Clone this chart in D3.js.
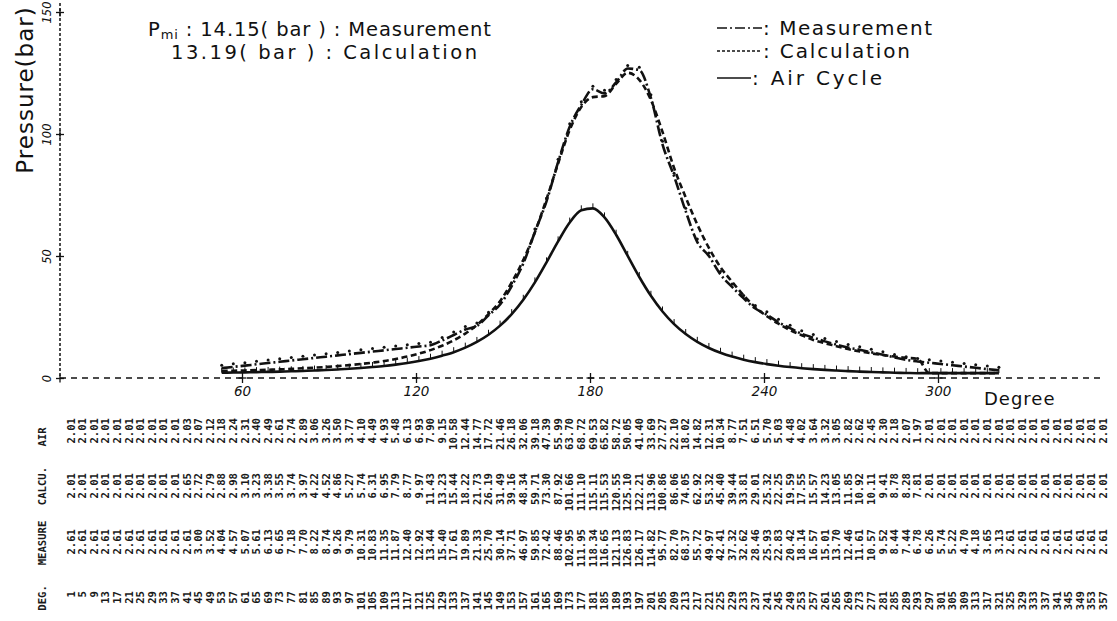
<!DOCTYPE html>
<html>
<head>
<meta charset="utf-8">
<script src="https://cdn.jsdelivr.net/npm/d3@7"></script>
<style>
  body { margin: 0; background: #fff; }
  svg { display: block; }
  .tbl { font-family: "DejaVu Sans Mono", monospace; font-size: 10.6px; font-weight: bold; fill: #1a1a1a; }
  .txt { font-family: "DejaVu Sans", sans-serif; fill: #111; }
</style>
</head>
<body>
<div id="chart"></div>
<script>
const DEG = [1, 5, 9, 13, 17, 21, 25, 29, 33, 37, 41, 45, 49, 53, 57, 61, 65, 69, 73, 77,
  81, 85, 89, 93, 97, 101, 105, 109, 113, 117, 121, 125, 129, 133, 137, 141, 145, 149, 153, 157,
  161, 165, 169, 173, 177, 181, 185, 189, 193, 197, 201, 205, 209, 213, 217, 221, 225, 229, 233, 237,
  241, 245, 249, 253, 257, 261, 265, 269, 273, 277, 281, 285, 289, 293, 297, 301, 305, 309, 313, 317,
  321, 325, 329, 333, 337, 341, 345, 349, 353, 357]

const MEASURE = [2.61, 2.61, 2.61, 2.61, 2.61, 2.61, 2.61, 2.61, 2.61, 2.61,
  2.61, 3.00, 3.52, 4.04, 4.57, 5.07, 5.61, 6.13, 6.65, 7.18,
  7.70, 8.22, 8.74, 9.26, 9.79, 10.31, 10.83, 11.35, 11.87, 12.40,
  12.92, 13.44, 15.40, 17.61, 19.89, 21.33, 25.70, 30.14, 37.71, 46.97,
  59.85, 72.42, 88.46, 102.95, 111.95, 118.34, 116.65, 121.13, 126.83, 126.17,
  114.82, 95.77, 82.70, 68.37, 55.72, 49.97, 42.41, 37.32, 32.62, 28.46,
  25.93, 22.83, 20.42, 18.14, 16.57, 15.01, 13.70, 12.46, 11.61, 10.57,
  9.52, 8.44, 7.44, 6.78, 6.26, 5.74, 5.22, 4.70, 4.18, 3.65,
  3.13, 2.61, 2.61, 2.61, 2.61, 2.61, 2.61, 2.61, 2.61, 2.61]

const CALCU = [2.01, 2.01, 2.01, 2.01, 2.01, 2.01, 2.01, 2.01, 2.01, 2.01,
  2.65, 2.72, 2.79, 2.88, 2.98, 3.10, 3.23, 3.38, 3.55, 3.74,
  3.97, 4.22, 4.52, 4.86, 5.27, 5.74, 6.31, 6.95, 7.79, 8.77,
  9.97, 11.43, 13.23, 15.44, 18.22, 21.73, 26.19, 31.49, 39.16, 48.34,
  59.71, 73.30, 87.92, 101.66, 111.10, 115.11, 115.53, 120.55, 125.10, 122.21,
  113.96, 100.86, 86.06, 74.05, 62.92, 53.32, 45.40, 39.44, 33.81, 29.01,
  25.32, 22.25, 19.59, 17.55, 15.57, 14.23, 13.05, 11.85, 10.92, 10.11,
  9.41, 8.78, 8.28, 7.81, 2.01, 2.01, 2.01, 2.01, 2.01, 2.01,
  2.01, 2.01, 2.01, 2.01, 2.01, 2.01, 2.01, 2.01, 2.01, 2.01]

const AIR = [2.01, 2.01, 2.01, 2.01, 2.01, 2.01, 2.01, 2.01, 2.01, 2.01,
  2.03, 2.07, 2.12, 2.18, 2.24, 2.31, 2.40, 2.49, 2.61, 2.74,
  2.89, 3.06, 3.26, 3.50, 3.77, 4.10, 4.49, 4.93, 5.48, 6.13,
  6.93, 7.90, 9.15, 10.58, 12.44, 14.77, 17.72, 21.46, 26.18, 32.06,
  39.18, 47.39, 55.99, 63.70, 68.72, 69.53, 65.82, 58.72, 50.05, 41.40,
  33.69, 27.27, 22.10, 18.02, 14.82, 12.31, 10.34, 8.77, 7.51, 6.51,
  5.70, 5.03, 4.48, 4.02, 3.64, 3.32, 3.05, 2.82, 2.62, 2.45,
  2.30, 2.18, 2.07, 1.97, 2.01, 2.01, 2.01, 2.01, 2.01, 2.01,
  2.01, 2.01, 2.01, 2.01, 2.01, 2.01, 2.01, 2.01, 2.01, 2.01]

const X_TICKS = [60, 120, 180, 240, 300]
const Y_TICKS = [0, 50, 100, 150]
const PLOT_DEG = [53, 321]
const PMI_LINES = [['14.15', 'Measurement'], ['13.19', 'Calculation']]
const LEGEND_NAMES = ['Measurement', 'Calculation', 'Air Cycle']

const INK = '#111'
const width = 1117
const height = 621

const svg = d3.select('#chart').append('svg').attr('width', width).attr('height', height)

const x = d3.scaleLinear().domain([0, 360]).range([68, 1112])
const y = d3.scaleLinear().domain([0, 150]).range([378, 12])

// dashed axis lines
svg.append('line')
  .attr('x1', 60).attr('x2', 60).attr('y1', 3).attr('y2', y(0))
  .attr('stroke', INK).attr('stroke-width', 1.5).attr('stroke-dasharray', '3,2')
svg.append('line')
  .attr('x1', 60).attr('x2', 1105).attr('y1', y(0)).attr('y2', y(0))
  .attr('stroke', INK).attr('stroke-width', 1.5).attr('stroke-dasharray', '6,5')

const yAxisG = svg.append('g')
  .attr('transform', 'translate(60,0)')
  .call(d3.axisLeft(y).tickValues(Y_TICKS).tickSize(0))
yAxisG.select('.domain').remove()
yAxisG.selectAll('.tick line').attr('x1', -4).attr('x2', 4).attr('stroke', INK).attr('stroke-width', 1.3)
yAxisG.selectAll('.tick').append('line').attr('y1', -4).attr('y2', 4).attr('stroke', INK).attr('stroke-width', 1.3)
yAxisG.selectAll('.tick text')
  .attr('x', null).attr('dy', null)
  .attr('transform', 'translate(-9,0) rotate(-90)')
  .attr('text-anchor', 'middle')
  .attr('font-family', 'DejaVu Sans, sans-serif')
  .attr('font-style', 'italic').attr('font-size', 11.5).attr('fill', INK)

const xAxisG = svg.append('g')
  .attr('transform', `translate(0,${y(0)})`)
  .call(d3.axisBottom(x).tickValues(X_TICKS).tickSize(0))
xAxisG.select('.domain').remove()
xAxisG.selectAll('.tick line').attr('y1', -5).attr('y2', 5).attr('stroke', INK).attr('stroke-width', 1.3)
xAxisG.selectAll('.tick').append('line').attr('x1', -4).attr('x2', 4).attr('stroke', INK).attr('stroke-width', 1.3)
xAxisG.selectAll('.tick text')
  .attr('y', 8).attr('dy', '0.71em')
  .attr('font-family', 'DejaVu Sans, sans-serif')
  .attr('font-style', 'italic').attr('font-size', 13.5).attr('fill', INK)

svg.append('text').attr('class', 'txt')
  .attr('x', 984).attr('y', 405)
  .attr('font-size', 18).attr('letter-spacing', 1)
  .text('Degree')

svg.append('text').attr('class', 'txt')
  .attr('transform', 'translate(33,90) rotate(-90)')
  .attr('text-anchor', 'middle')
  .attr('font-size', 23).attr('letter-spacing', 1)
  .text('Pressure(bar)')

// P_mi block
const pmi = svg.append('text').attr('class', 'txt')
  .attr('x', 148).attr('y', 36).attr('font-size', 19.5)
  .attr('textLength', 343).attr('lengthAdjust', 'spacing')
pmi.append('tspan').text('P')
pmi.append('tspan').attr('font-size', 13).attr('dy', 3).text('mi')
pmi.append('tspan').attr('dy', -3).text(` : ${PMI_LINES[0][0]}( bar ) : ${PMI_LINES[0][1]}`)
svg.append('text').attr('class', 'txt')
  .attr('x', 171).attr('y', 59).attr('font-size', 19.5)
  .attr('textLength', 306).attr('lengthAdjust', 'spacing')
  .text(`${PMI_LINES[1][0]}( bar ) : ${PMI_LINES[1][1]}`)

// curves
const rows = DEG.map((d, i) => ({ deg: d, measure: MEASURE[i], calcu: CALCU[i], air: AIR[i] }))
const plotted = rows.filter((r) => r.deg >= PLOT_DEG[0] && r.deg <= PLOT_DEG[1])

const SERIES = [
  { key: 'measure', dash: '11,3,2,3', legendDash: '10,3,2,3' },
  { key: 'calcu', dash: '6,3.5', legendDash: '3,2' },
  { key: 'air', dash: null, legendDash: null },
]

const curvesG = svg.append('g')
SERIES.forEach((s) => {
  const line = d3.line()
    .x((d) => x(d.deg))
    .y((d) => y(d[s.key]))
    .curve(d3.curveMonotoneX)
  curvesG.append('path')
    .datum(plotted)
    .attr('d', line)
    .attr('fill', 'none')
    .attr('stroke', INK)
    .attr('stroke-width', 2.6)
    .attr('stroke-dasharray', s.dash)
})

// small tick marks on the air cycle curve, dots on the measurement
curvesG.selectAll('line.air-mark')
  .data(plotted)
  .join('line')
  .attr('class', 'air-mark')
  .attr('x1', (d) => x(d.deg)).attr('x2', (d) => x(d.deg))
  .attr('y1', (d) => y(d.air) - 5).attr('y2', (d) => y(d.air))
  .attr('stroke', INK).attr('stroke-width', 1)
curvesG.selectAll('circle.m-mark')
  .data(plotted)
  .join('circle')
  .attr('class', 'm-mark')
  .attr('cx', (d) => x(d.deg)).attr('cy', (d) => y(d.measure) - 3)
  .attr('r', 1.5).attr('fill', INK)

// legend
const legendY = [35, 58, 85]
const legendEnd = [932, 910, 882]
const legendG = svg.append('g')
LEGEND_NAMES.forEach((name, i) => {
  const s = SERIES[i]
  const ly = legendY[i] - 7
  const tx = i === 2 ? 752 : 763
  legendG.append('line')
    .attr('x1', 717).attr('x2', tx - 1)
    .attr('y1', ly).attr('y2', ly)
    .attr('stroke', INK).attr('stroke-width', 1.6)
    .attr('stroke-dasharray', s.legendDash)
  legendG.append('text').attr('class', 'txt')
    .attr('x', tx).attr('y', legendY[i])
    .attr('font-size', 20)
    .attr('textLength', legendEnd[i] - tx).attr('lengthAdjust', 'spacing')
    .text(`: ${name}`)
})

// data table (rotated printer output)
const TABLE = [
  { name: 'AIR', values: AIR, top: 418, mid: 437, fmt: (v) => v.toFixed(2) },
  { name: 'CALCU.', values: CALCU, top: 473, mid: 486, fmt: (v) => v.toFixed(2) },
  { name: 'MEASURE', values: MEASURE, top: 529, mid: 543, fmt: (v) => v.toFixed(2) },
  { name: 'DEG.', values: DEG, top: 591, mid: 598, fmt: (v) => String(v) },
]

const tableG = svg.append('g')
TABLE.forEach((row) => {
  tableG.append('text').attr('class', 'tbl')
    .attr('transform', `translate(42,${row.mid}) rotate(-90)`)
    .attr('text-anchor', 'middle').attr('dy', '0.35em')
    .attr('font-weight', 'normal')
    .text(row.name)
  tableG.append('g').selectAll('text')
    .data(row.values.map((v, i) => ({ deg: DEG[i], v })))
    .join('text')
    .attr('class', 'tbl')
    .attr('transform', (d) => `translate(${x(d.deg)},${row.top}) rotate(-90)`)
    .attr('text-anchor', 'end').attr('dy', '0.35em')
    .text((d) => row.fmt(d.v))
})
</script>
</body>
</html>
